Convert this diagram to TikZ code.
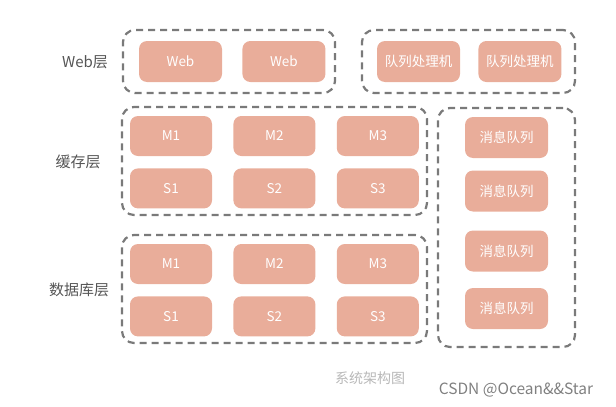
\documentclass[tikz,border=0pt]{standalone}
\usepackage{fontspec}
\setmainfont{Noto Sans CJK SC}
\usetikzlibrary{positioning}

\definecolor{boxfill}{HTML}{E9AD9A}
\definecolor{dashgray}{HTML}{7A7A7A}
\definecolor{labelgray}{HTML}{555555}

\begin{document}
\begin{tikzpicture}[
  x=1pt, y=-1pt,
  font=\fontsize{13.5}{15}\selectfont,
  box/.style={fill=boxfill, text=white, rounded corners=8pt, minimum width=82pt, minimum height=40pt, inner sep=0pt},
  group/.style={draw=dashgray, line width=2.2pt, dash pattern=on 7pt off 5pt, rounded corners=12pt, inner sep=0pt},
  layer/.style={text=labelgray, font=\fontsize{15}{17}\selectfont}
]
\useasboundingbox (0,0) rectangle (616,407);

% groups
\node[group, minimum width=212pt, minimum height=63pt] (webgrp) at (229,61.5) {};
\node[group, minimum width=213pt, minimum height=63pt] (procgrp) at (468.5,61.5) {};
\node[group, minimum width=305pt, minimum height=108pt] (cachegrp) at (274.5,161) {};
\node[group, minimum width=305pt, minimum height=108pt] (dbgrp) at (274.5,289) {};
\node[group, minimum width=137pt, minimum height=239pt] (mqgrp) at (506.5,227.5) {};

% web layer
\node[box, minimum width=83pt, minimum height=41pt] (web1) at (180.5,61.5) {Web};
\node[box, minimum width=83pt, minimum height=41pt, right=20pt of web1] (web2) {Web};
\node[box, minimum width=83pt, minimum height=41pt] (proc1) at (418.5,61.5) {队列处理机};
\node[box, minimum width=83pt, minimum height=41pt, right=18pt of proc1] (proc2) {队列处理机};

% cache layer
\node[box] (cm1) at (171,136) {M1};
\node[box, right=21pt of cm1] (cm2) {M2};
\node[box, right=21pt of cm2] (cm3) {M3};
\node[box, below=12pt of cm1] (cs1) {S1};
\node[box, below=12pt of cm2] (cs2) {S2};
\node[box, below=12pt of cm3] (cs3) {S3};

% database layer
\node[box] (dm1) at (171,264) {M1};
\node[box, right=21pt of dm1] (dm2) {M2};
\node[box, right=21pt of dm2] (dm3) {M3};
\node[box, below=12pt of dm1] (ds1) {S1};
\node[box, below=12pt of dm2] (ds2) {S2};
\node[box, below=12pt of dm3] (ds3) {S3};

% message queues
\node[box, minimum width=83pt, minimum height=41pt] (mq1) at (506.5,137.5) {消息队列};
\node[box, minimum width=83pt, minimum height=41pt] (mq2) at (506.5,191) {消息队列};
\node[box, minimum width=83pt, minimum height=41pt] (mq3) at (506.5,251) {消息队列};
\node[box, minimum width=83pt, minimum height=41pt] (mq4) at (506.5,308.5) {消息队列};

% layer labels
\node[layer] (weblbl) at (85,62) {Web层};
\node[layer] (cachelbl) at (78,162) {缓存层};
\node[layer] (dblbl) at (79,290) {数据库层};

\node[text=black!28, font=\fontsize{14}{16}\selectfont] (caption) at (370,378) {系统架构图};
\node[text=black!50, font=\fontsize{15.5}{17}\selectfont] (mark) at (516,390) {CSDN @Ocean\&\&Star};
\end{tikzpicture}
\end{document}
